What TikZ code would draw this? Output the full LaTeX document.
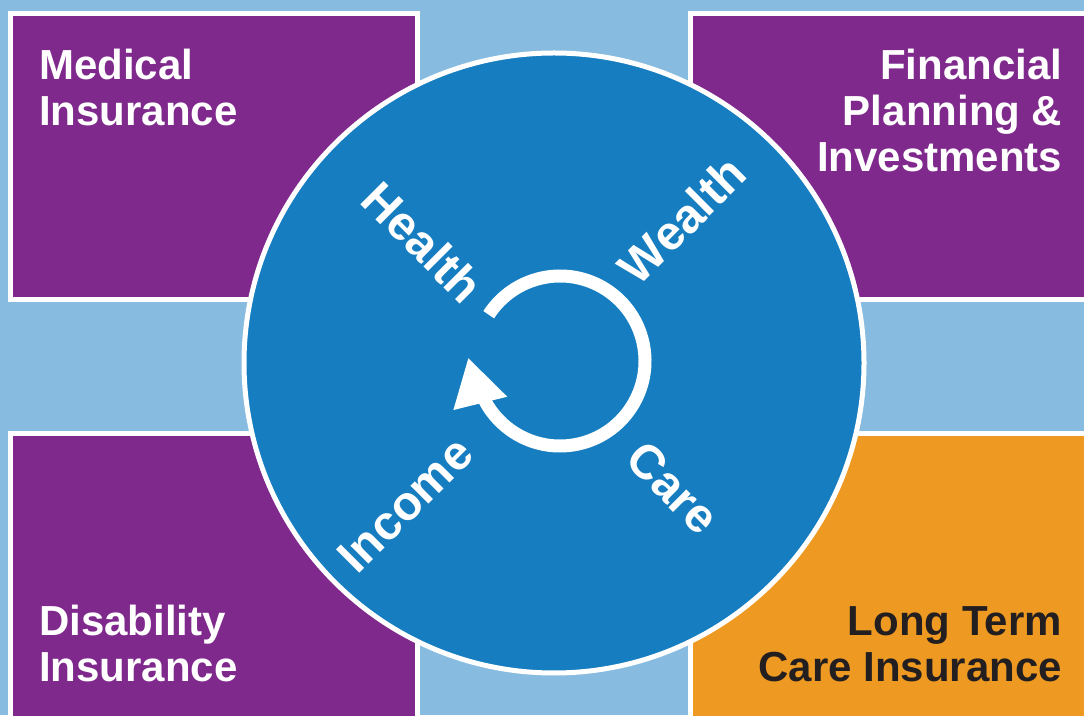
\documentclass[tikz,border=0pt]{standalone}
\usepackage{fontspec}
\setmainfont{Liberation Sans}
\usetikzlibrary{calc}
\definecolor{bgblue}{HTML}{87BBE0}
\definecolor{boxpurple}{HTML}{80298D}
\definecolor{discblue}{HTML}{157DC0}
\definecolor{boxorange}{HTML}{EE9A22}
\definecolor{textdark}{HTML}{231F20}

\begin{document}
\begin{tikzpicture}[x=1pt,y=1pt,
	box/.style={draw=white,line width=5pt},
	boxtext/.style={font=\bfseries\fontsize{42}{46}\selectfont,inner sep=0pt},
	word/.style={font=\bfseries\fontsize{48}{48}\selectfont,text=white,inner sep=0pt}]
	\useasboundingbox (0,0) rectangle (1084,715);
	\clip (0,0) rectangle (1084,715);
	\fill[bgblue] (0,0) rectangle (1084,715); %background
	\draw[box,fill=boxpurple] (10.5,701.5) rectangle (417.5,415.5); %top left
	\draw[box,fill=boxpurple] (690.5,701.5) rectangle (1100,415.5); %top right
	\draw[box,fill=boxpurple] (10.5,281.5) rectangle (417.5,-20); %bottom left
	\draw[box,fill=boxorange] (690.5,281.5) rectangle (1100,-20); %bottom right
	\node[boxtext,text=white,anchor=base west,align=left] (medical) at (39,589) {Medical\\Insurance};
	\node[boxtext,text=white,anchor=base east,align=right] (financial) at (1062.5,543.3) {Financial\\Planning \&\\Investments};
	\node[boxtext,text=white,anchor=base west,align=left] (disability) at (39,33.3) {Disability\\Insurance};
	\node[boxtext,text=textdark,anchor=base east,align=right] (longterm) at (1062,33.3) {Long Term\\Care Insurance};
	\coordinate (c) at (554,352); %disc centre
	\coordinate (r) at (560,354); %cycle centre
	\draw[draw=white,fill=discblue,line width=5pt] (c) circle[radius=310]; %disc
	\draw[white,line width=13pt] ($(r)+(147:85)$) arc[start angle=147,end angle=-158,radius=85]; %cycle
	\fill[white] ($(r)+(204.7:117.4)$) -- ($(r)+(178.3:91.7)$) -- ($(r)+(214.1:63.7)$) -- cycle; %arrow head
	\foreach \w/\a/\d/\t in {Health/137.3/178.3/-45,Wealth/48.2/191.9/45,Income/223.6/205.8/45,Care/-46.4/172.6/-45}{
		\node[word,rotate=\t] (\w) at ($(c)+(\a:\d)$) {\w};
	}
\end{tikzpicture}
\end{document}
